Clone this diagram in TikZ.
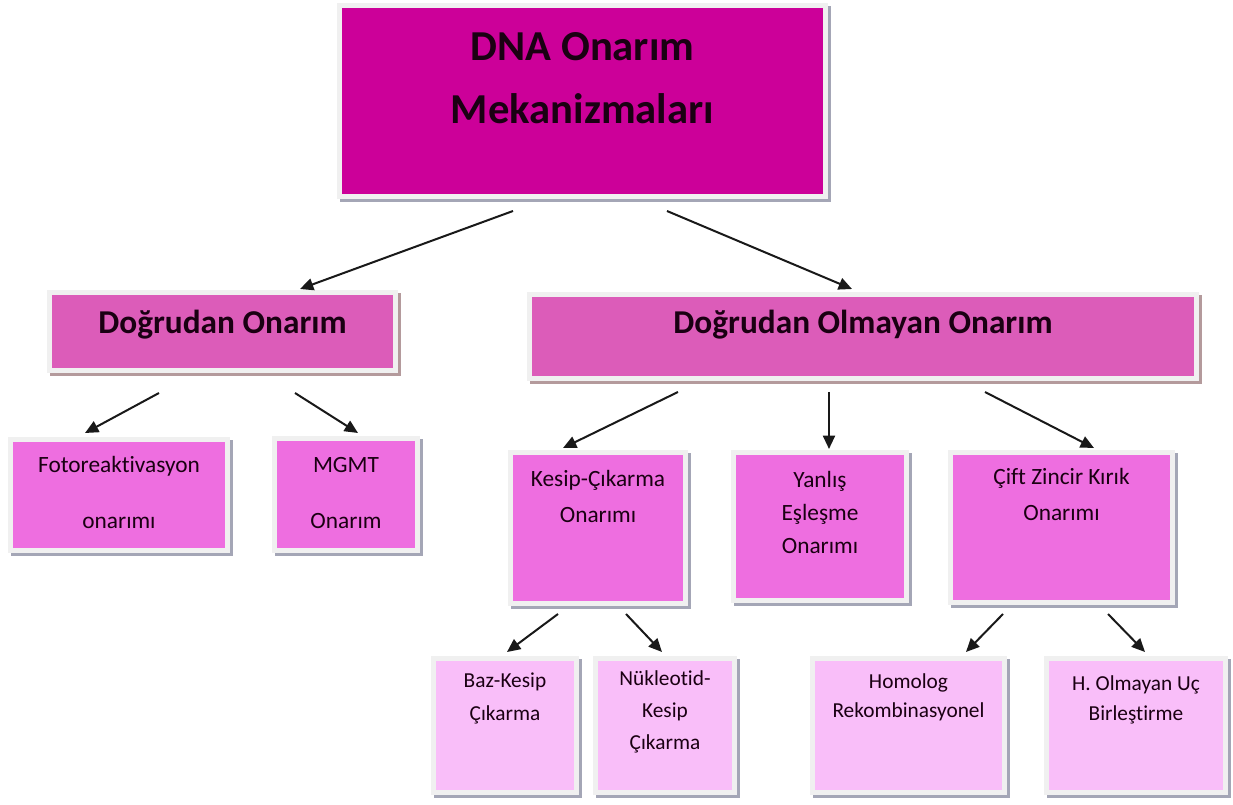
\documentclass[tikz,border=0pt]{standalone}
\usepackage{fontspec}
\setmainfont[Ligatures=NoCommon]{Carlito}
\usetikzlibrary{arrows.meta,calc,shadows}
\definecolor{topcol}{HTML}{CC0099}
\definecolor{midcol}{HTML}{DC5CB9}
\definecolor{l3col}{HTML}{EE6EE0}
\definecolor{l4col}{HTML}{F9BEF9}
\definecolor{framecol}{HTML}{F0F0F0}
\definecolor{shadowcol}{HTML}{A4A6B6}
\definecolor{shadowbr}{HTML}{B49A9C}
\definecolor{txtcol}{HTML}{1A0012}
\tikzset{
  box/.style={rectangle, draw=framecol, line width=3.75pt, outer sep=0pt, inner sep=0pt,
    drop shadow={shadow xshift=2.2pt, shadow yshift=-2.2pt, fill=shadowcol, draw=shadowcol, line width=3.75pt, opacity=1}},
  boxbr/.style={rectangle, draw=framecol, line width=3.75pt, outer sep=0pt, inner sep=0pt,
    drop shadow={shadow xshift=2.2pt, shadow yshift=-2.2pt, fill=shadowbr, draw=shadowbr, line width=3.75pt, opacity=1}},
  lab/.style={anchor=north, align=center, inner sep=0pt, text=txtcol},
  arr/.style={-{Triangle[length=10pt,width=9pt]}, line width=1.5pt, black!90},
}
\begin{document}
\begin{tikzpicture}[x=0.75pt,y=-0.75pt]
\useasboundingbox[fill=white] (0,0) rectangle (1233,805);

\node[box, fill=topcol, minimum width=364.5pt, minimum height=143.25pt,
  label={[lab, yshift=-20.25pt, font=\fontsize{32}{47}\selectfont\bfseries]north:DNA Onarım\\Mekanizmaları}]
  (top) at (582.5,101) {};

\node[boxbr, fill=midcol, minimum width=259.5pt, minimum height=58.5pt,
  label={[lab, yshift=-13pt, font=\fontsize{25}{30}\selectfont\bfseries]north:Doğrudan Onarım}]
  (dog) at (222.5,331.5) {};

\node[boxbr, fill=midcol, minimum width=500.25pt, minimum height=63pt,
  label={[lab, yshift=-11.6pt, font=\fontsize{25}{30}\selectfont\bfseries]north:Doğrudan Olmayan Onarım}]
  (olm) at (863,336.5) {};

\node[box, fill=l3col, minimum width=162.75pt, minimum height=83.25pt,
  label={[lab, yshift=-12.4pt, font=\fontsize{17.5}{42}\selectfont]north:Fotoreaktivasyon\\onarımı}]
  (foto) at (119,495) {};

\node[box, fill=l3col, minimum width=107.25pt, minimum height=84pt,
  label={[lab, yshift=-13.9pt, font=\fontsize{17.5}{42}\selectfont]north:MGMT\\Onarım}]
  (mgmt) at (346,494.5) {};

\node[box, fill=l3col, minimum width=131.25pt, minimum height=113.25pt,
  label={[lab, yshift=-13.1pt, font=\fontsize{17.5}{27}\selectfont]north:Kesip-Çıkarma\\Onarımı}]
  (kesip) at (598,528) {};

\node[box, fill=l3col, minimum width=129.75pt, minimum height=111pt,
  label={[lab, yshift=-13.9pt, font=\fontsize{17.5}{24.75}\selectfont]north:Yanlış\\Eşleşme\\Onarımı}]
  (yanlis) at (820,526.5) {};

\node[box, fill=l3col, minimum width=166.5pt, minimum height=112.5pt,
  label={[lab, yshift=-12pt, font=\fontsize{17.5}{27}\selectfont]north:Çift Zincir Kırık\\Onarımı}]
  (cift) at (1061.5,527.5) {};

\node[box, fill=l4col, minimum width=107.25pt, minimum height=100.5pt,
  label={[lab, yshift=-10.9pt, font=\fontsize{16}{24.75}\selectfont]north:Baz-Kesip\\Çıkarma}]
  (baz) at (505,725.5) {};

\node[box, fill=l4col, minimum width=104.25pt, minimum height=100.5pt,
  label={[lab, yshift=-8.6pt, font=\fontsize{16}{24}\selectfont]north:Nükleotid-\\Kesip\\Çıkarma}]
  (nuk) at (665,725.5) {};

\node[box, fill=l4col, minimum width=144pt, minimum height=100.5pt,
  label={[lab, yshift=-11.25pt, font=\fontsize{16}{22}\selectfont]north:Homolog\\Rekombinasyonel}]
  (hom) at (908.5,725.5) {};

\node[box, fill=l4col, minimum width=134.25pt, minimum height=100.5pt,
  label={[lab, yshift=-12.75pt, font=\fontsize{16}{22.5}\selectfont]north:H. Olmayan Uç\\Birleştirme}]
  (hol) at (1136,725.5) {};

\draw[arr] ($(top.center)+(-69.5,110)$) -- ($(dog.center)+(77.5,-42.5)$);
\draw[arr] ($(top.center)+(84.5,110)$) -- ($(olm.center)+(-11,-47.5)$);
\draw[arr] ($(dog.center)+(-63.5,61.5)$) -- ($(foto.center)+(-34,-62)$);
\draw[arr] ($(dog.center)+(72.5,61.5)$) -- ($(mgmt.center)+(12,-61.5)$);
\draw[arr] ($(olm.center)+(-185,55.5)$) -- ($(kesip.center)+(-35,-80)$);
\draw[arr] ($(olm.center)+(-34,55.5)$) -- ($(yanlis.center)+(9,-77.5)$);
\draw[arr] ($(olm.center)+(122,55.5)$) -- ($(cift.center)+(32.5,-79.5)$);
\draw[arr] ($(kesip.center)+(-40,86)$) -- ($(baz.center)+(2,-73.5)$);
\draw[arr] ($(kesip.center)+(28,86)$) -- ($(nuk.center)+(-3,-73.5)$);
\draw[arr] ($(cift.center)+(-58.5,86.5)$) -- ($(hom.center)+(57.5,-73.5)$);
\draw[arr] ($(cift.center)+(46.5,86.5)$) -- ($(hol.center)+(9,-73.5)$);
\end{tikzpicture}
\end{document}
